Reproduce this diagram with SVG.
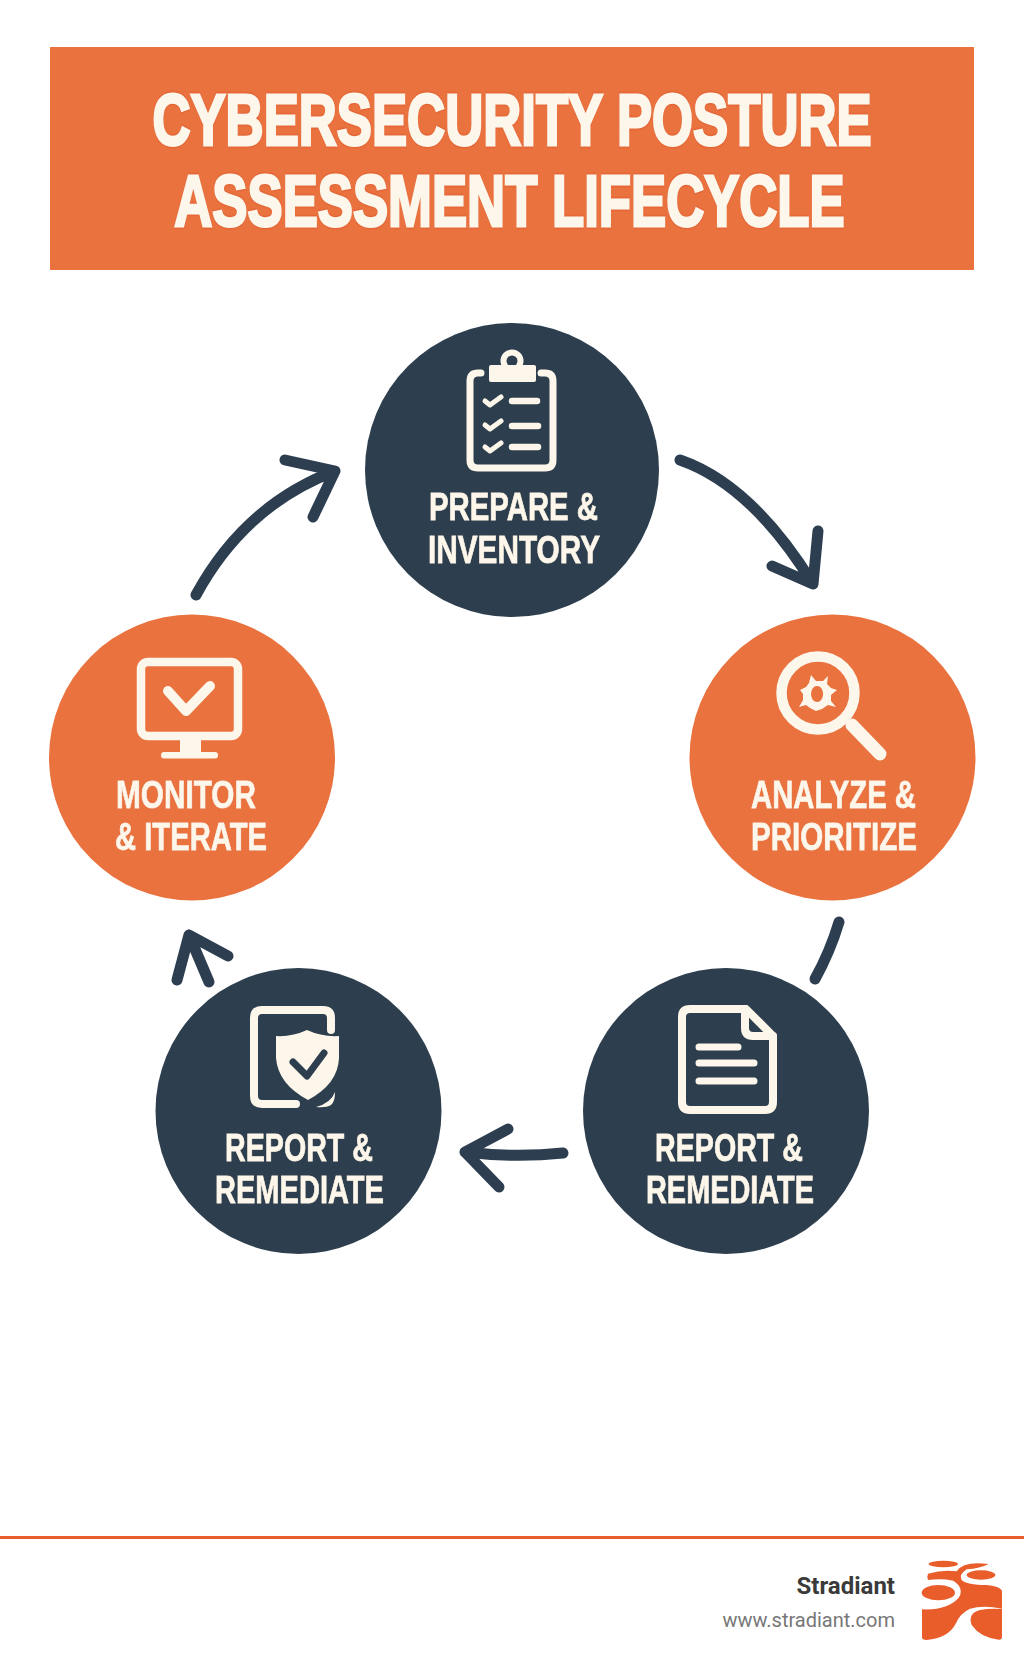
<svg xmlns="http://www.w3.org/2000/svg" width="1024" height="1666" viewBox="0 0 1024 1666">
<defs><style>
.o{fill:#E9723F}.n{fill:#2D3E4E}
text{font-family:"Liberation Sans",Arial,sans-serif;font-weight:700}
.lab{font-size:38px;fill:#FDF6EA;stroke:#FDF6EA;stroke-width:.8px}
.ol{filter:drop-shadow(0 0 .7px #D9481C)}.nl{filter:drop-shadow(0 0 .7px #16212B)}
.title{font-size:72px;fill:#FDF6EA;stroke:#FDF6EA;stroke-width:3px;text-anchor:middle;filter:drop-shadow(0 0 .8px #D9481C)}
.ic{fill:none;stroke:#FDF6EA;stroke-linecap:round;stroke-linejoin:round}
.cf{fill:#FDF6EA}
.arr{fill:none;stroke:#2C3E50;stroke-width:11;stroke-linecap:round;stroke-linejoin:round}
.logo{fill:#E85D2A}
</style></defs>
<rect width="1024" height="1666" fill="#fff"/>
<g id="header">
<rect class="o" x="50" y="47" width="924" height="223"/>
<text class="title" transform="translate(512 145) scale(.732 1)">CYBERSECURITY POSTURE</text>
<text class="title" transform="translate(509.500 226) scale(.732 1)">ASSESSMENT LIFECYCLE</text>
</g>
<g id="connectors">
<path class="arr" d="M680 460Q752 485 813 584M818 531L813 584L772 566"/>
<path class="arr" d="M839 922Q830 952 815 979"/>
<path class="arr" d="M563 1153Q515 1158 465 1152M508 1129L465 1152L499 1187"/>
<path class="arr" d="M209 982L189 935M177 980L189 935L228 956"/>
<path class="arr" d="M196 595Q245 505 335 471M285 460L335 471L313 517"/>
</g>
<g id="node-prepare">
<circle class="n" cx="512" cy="470" r="147"/>
<path class="ic" stroke-width="7" d="M481 373H478Q470 373 470 381V460Q470 468 478 468H545Q553 468 553 460V381Q553 373 545 373H541"/>
<circle class="ic" cx="512" cy="361" r="8.500" stroke-width="6"/>
<rect class="cf" x="489" y="365" width="47" height="17" rx="2"/>
<g class="ic" stroke-width="5"><path d="M485 401L490 405L501 397M485 425L490 429L501 421M485 447L490 451L501 443"/></g>
<g class="ic" stroke-width="6.500"><path d="M512 401H537M512 426H538M512 447H538"/></g>
<text class="lab nl" x="429" y="520" textLength="169" lengthAdjust="spacingAndGlyphs">PREPARE &amp;</text>
<text class="lab nl" x="428" y="563" textLength="172" lengthAdjust="spacingAndGlyphs">INVENTORY</text>
</g>
<g id="node-analyze">
<circle class="o" cx="832.500" cy="757.500" r="143"/>
<circle class="ic" cx="818" cy="693" r="36.500" stroke-width="10.500"/>
<path class="ic" stroke-width="13" d="M852 725L880 754"/>
<path class="cf" fill-rule="evenodd" d="M811 675L816 681L823 681L828 676L827 684L831 688L837 690L831 695L831 701L836 707L828 705L822 709L816 711L810 708L806 705L799 707L803 700L803 694L800 690L806 687L809 683ZM817 686A6 8 0 1 0 817.100 686Z"/>
<text class="lab ol" x="751" y="808" textLength="165" lengthAdjust="spacingAndGlyphs">ANALYZE &amp;</text>
<text class="lab ol" x="751" y="850" textLength="166" lengthAdjust="spacingAndGlyphs">PRIORITIZE</text>
</g>
<g id="node-report">
<circle class="n" cx="726" cy="1111" r="143"/>
<path class="ic" stroke-width="8" d="M690 1009H746L773 1036V1102Q773 1110 765 1110H690Q682 1110 682 1102V1017Q682 1009 690 1009Z"/>
<path class="ic" stroke-width="8" d="M745 1009V1028Q745 1036 753 1036H773"/>
<path class="ic" stroke-width="7" d="M699 1047H738M699 1063H754M699 1081H754"/>
<text class="lab nl" x="655" y="1161" textLength="148" lengthAdjust="spacingAndGlyphs">REPORT &amp;</text>
<text class="lab nl" x="646" y="1203" textLength="168" lengthAdjust="spacingAndGlyphs">REMEDIATE</text>
</g>
<g id="node-remediate">
<circle class="n" cx="298.500" cy="1111" r="143"/>
<path class="ic" stroke-width="8" d="M331 1030V1018Q331 1010 323 1010H262Q254 1010 254 1018V1096Q254 1104 262 1104H296"/>
<path class="cf" d="M307 1030Q292 1037 276 1036V1058Q278 1084 308 1100Q338 1084 339 1058V1036Q322 1037 307 1030Z"/>
<path class="ic" style="stroke:#2D3E4E" stroke-width="7" d="M293 1062L307 1076L324 1053"/>
<path class="cf" d="M316 1107Q331 1103 335 1092Q335 1102 331 1105Q326 1108 316 1107Z"/>
<text class="lab nl" x="225" y="1161" textLength="148" lengthAdjust="spacingAndGlyphs">REPORT &amp;</text>
<text class="lab nl" x="215" y="1203" textLength="169" lengthAdjust="spacingAndGlyphs">REMEDIATE</text>
</g>
<g id="node-monitor">
<circle class="o" cx="192" cy="757.500" r="143"/>
<rect class="ic" x="141" y="662" width="97" height="74" rx="7" stroke-width="8.500"/>
<rect class="cf" x="180" y="738" width="21" height="16"/>
<rect class="cf" x="161" y="752" width="57" height="6.500" rx="3"/>
<path class="ic" stroke-width="10" d="M168 691L186 711L210 686"/>
<text class="lab ol" x="116" y="808" textLength="140" lengthAdjust="spacingAndGlyphs">MONITOR</text>
<text class="lab ol" x="115" y="850" textLength="152" lengthAdjust="spacingAndGlyphs">&amp; ITERATE</text>
</g>
<g id="footer">
<rect x="0" y="1536" width="1024" height="3" fill="#E85D2A"/>
<text x="895" y="1594" text-anchor="end" style="font-family:Roboto,'Liberation Sans',sans-serif;font-size:24px;font-weight:700;fill:#3A3A3A">Stradiant</text>
<text x="895" y="1627" text-anchor="end" style="font-family:Roboto,'Liberation Sans',sans-serif;font-size:20px;font-weight:400;fill:#777">www.stradiant.com</text>
<g class="logo" transform="translate(700 1530) scale(.33333)">
<ellipse cx="730" cy="102" rx="44" ry="10"/>
<ellipse cx="843" cy="135" rx="43" ry="14"/>
<ellipse cx="715" cy="188" rx="50" ry="23"/>
<path d="M684 131Q730 118 770 124Q790 92 866 102Q840 115 800 118Q775 135 785 150Q800 165 860 165Q906 170 906 185V236Q850 225 810 236Q780 250 768 280Q745 325 680 330Q666 330 666 322V238Q740 242 775 205Q795 175 760 152Q725 145 684 150Q680 140 684 131Z"/>
<path d="M906 237V320Q906 330 896 329Q840 322 815 285Q802 250 840 240Q870 234 906 237Z"/>
</g>
</g>
</svg>
